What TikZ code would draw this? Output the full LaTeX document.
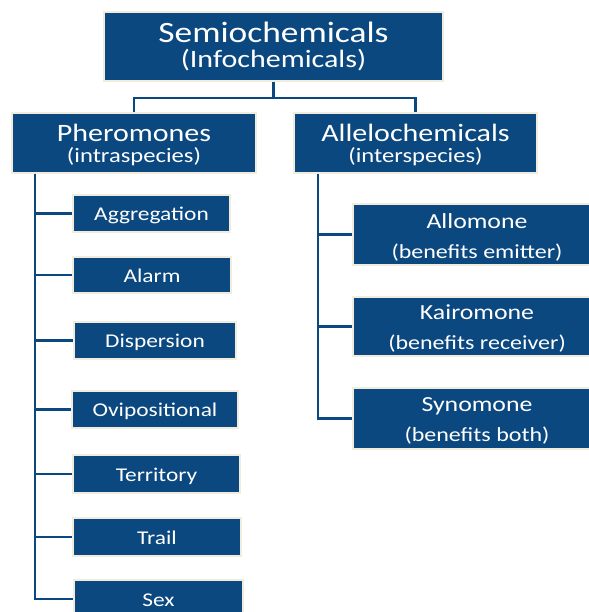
\documentclass[tikz,border=0pt]{standalone}
\usepackage{fontspec}
\setmainfont[FakeStretch=1.2]{Carlito}
\definecolor{boxblue}{RGB}{11,72,128}
\definecolor{edgecream}{RGB}{240,236,222}
\begin{document}
\begin{tikzpicture}[x=1pt,y=-1pt,
  box/.style={draw=edgecream,line width=1.5pt,fill=boxblue,inner sep=0pt},
  lbl/.style={anchor=base,text=white,inner sep=0pt},
  conn/.style={draw=boxblue,line width=2.8pt}]
\useasboundingbox (0,0) rectangle (588,612);
% boxes
\node[box,minimum width=339pt,minimum height=69pt] (top) at (273.5,46.5) {};
\node[box,minimum width=244pt,minimum height=60pt] (pher) at (134,143) {};
\node[box,minimum width=243pt,minimum height=60pt] (allelo) at (415.5,143) {};
\node[box,minimum width=157pt,minimum height=37pt] (agg) at (151.5,213.5) {};
\node[box,minimum width=158pt,minimum height=36pt] (alarm) at (152,275) {};
\node[box,minimum width=162pt,minimum height=37pt] (disp) at (155,340.5) {};
\node[box,minimum width=166pt,minimum height=37pt] (ovi) at (155,409.5) {};
\node[box,minimum width=167pt,minimum height=38pt] (terr) at (156.5,474) {};
\node[box,minimum width=168pt,minimum height=38pt] (trail) at (157,537) {};
\node[box,minimum width=169pt,minimum height=38pt] (sex) at (158.5,599) {};
\node[box,minimum width=248pt,minimum height=61pt] (allo) at (477,234.5) {};
\node[box,minimum width=248pt,minimum height=59pt] (kairo) at (477,326.5) {};
\node[box,minimum width=248pt,minimum height=61pt] (syno) at (477,418.5) {};
% labels
\node[lbl,font=\fontsize{29.5}{30}\selectfont] (tTop) at (273.5,43) {Semiochemicals};
\node[lbl,font=\fontsize{25}{25}\selectfont] (tTopSub) at (273.5,68) {(Infochemicals)};
\node[lbl,font=\fontsize{25}{26}\selectfont] (tPher) at (134,142) {Pheromones};
\node[lbl,font=\fontsize{20.5}{21}\selectfont] (tPherSub) at (134,163) {(intraspecies)};
\node[lbl,font=\fontsize{25}{26}\selectfont] (tAllelo) at (415.5,142) {Allelochemicals};
\node[lbl,font=\fontsize{20.5}{21}\selectfont] (tAlleloSub) at (415.5,163) {(interspecies)};
\node[lbl,font=\fontsize{19.5}{20}\selectfont] (tAgg) at (151.5,220.5) {Aggregation};
\node[lbl,font=\fontsize{19.5}{20}\selectfont] (tAlarm) at (152,282) {Alarm};
\node[lbl,font=\fontsize{19.5}{20}\selectfont] (tDisp) at (155,347.5) {Dispersion};
\node[lbl,font=\fontsize{19.5}{20}\selectfont] (tOvi) at (155,416.5) {Ovipositional};
\node[lbl,font=\fontsize{19.5}{20}\selectfont] (tTerr) at (156.5,481) {Territory};
\node[lbl,font=\fontsize{19.5}{20}\selectfont] (tTrail) at (157,544) {Trail};
\node[lbl,font=\fontsize{19.5}{20}\selectfont] (tSex) at (158.5,606) {Sex};
\node[lbl,font=\fontsize{21.5}{22}\selectfont] (tAllo) at (477,228) {Allomone};
\node[lbl,font=\fontsize{20}{21}\selectfont] (tAlloSub) at (477,258.5) {(benefits emitter)};
\node[lbl,font=\fontsize{21.5}{22}\selectfont] (tKairo) at (477,319.5) {Kairomone};
\node[lbl,font=\fontsize{20}{21}\selectfont] (tKairoSub) at (477,349.5) {(benefits receiver)};
\node[lbl,font=\fontsize{21.5}{22}\selectfont] (tSyno) at (477,411.5) {Synomone};
\node[lbl,font=\fontsize{20}{21}\selectfont] (tSynoSub) at (477,441.5) {(benefits both)};
% connectors
\coordinate (j) at (273.5,98);
\coordinate (ls) at (35,174);
\coordinate (rs) at (318,174);
\draw[conn] (top.south) -- (j) -| (pher.north);
\draw[conn] (j) -| (allelo.north);
\foreach \n in {agg,alarm,disp,ovi,terr,trail,sex}{
  \draw[conn] (ls) |- (\n.west);
}
\foreach \n in {allo,kairo,syno}{
  \draw[conn] (rs) |- (\n.west);
}
\end{tikzpicture}
\end{document}
